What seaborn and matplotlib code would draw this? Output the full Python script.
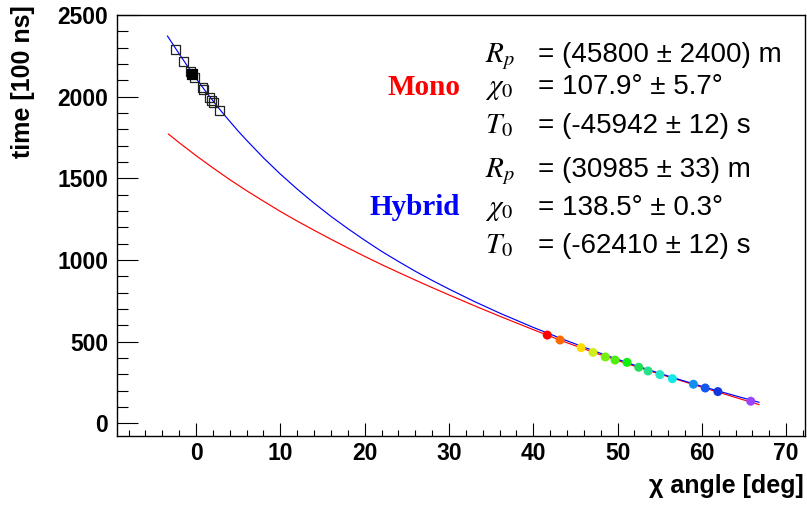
import matplotlib
matplotlib.use("Agg")
import matplotlib.pyplot as plt
from matplotlib.ticker import MultipleLocator
import seaborn as sns
import pandas as pd

# ---- data ----
mono_x = [-3.3, -2, 0, 2, 4, 6, 8, 10, 12, 14, 16, 18, 20, 22, 24, 26, 28, 30, 33, 36, 40, 44, 48, 52, 56, 60, 64, 66.8]
mono_y = [1772, 1718, 1639, 1564, 1492, 1424, 1360, 1297, 1238, 1182, 1127, 1074, 1022, 972, 924, 877, 831, 786,
          720, 656, 573, 493, 419, 350, 285, 221, 158, 114]

hyb_x = [-3.4, -2, -1, 0, 1, 2, 3, 4, 5, 6, 8, 10, 12, 14, 16, 18, 20, 22, 24, 26, 28, 30, 33, 36, 40, 44, 48,
         52, 56, 60, 64, 66.8]
hyb_y = [2372, 2262, 2186, 2112, 2042, 1975, 1910, 1849, 1789, 1733, 1625, 1526, 1434, 1348, 1267, 1192, 1121,
         1053, 991, 931, 875, 822, 746, 675, 587, 505, 428, 356, 289, 226, 168, 128]

pt_x = [41.66, 43.17, 45.67, 47.08, 48.55, 49.70, 51.12, 52.51, 53.62, 55.02, 56.50, 59.00, 60.40, 61.90, 65.80]
pt_y = [540, 510, 463, 434, 406, 387, 373, 343, 320, 298, 273, 239, 216, 194, 135]
pt_colors = ['#ff0000', '#ff6a00', '#ffdd00', '#d0ee1e', '#77ee11', '#4fee0c', '#11ee11', '#22dd55',
             '#28e08c', '#22e8c4', '#11e8e8', '#1190ee', '#1158ee', '#1138e0', '#9944ff']

sq_x = [-2.48, -1.49, -0.65, -0.18, 0.74, 0.89, 1.61, 1.81, 2.08, 2.80]
sq_y = [2290, 2213, 2152, 2117, 2057, 2044, 1993, 1979, 1966, 1913]
sq_fill_x = [-0.49]
sq_fill_y = [2136]

x_ticks = [0, 10, 20, 30, 40, 50, 60, 70]
y_ticks = [0, 500, 1000, 1500, 2000, 2500]

mono_lines = ["= (45800 ± 2400) m", "= 107.9° ± 5.7°", "= (-45942 ± 12) s"]
hyb_lines = ["= (30985 ± 33) m", "= 138.5° ± 0.3°", "= (-62410 ± 12) s"]
symbols = [r"$R_p$", r"$\chi_0$", r"$T_0$"]

# ---- style ----
sns.set_theme(style="white")
plt.rcParams['font.family'] = ['Liberation Sans', 'DejaVu Sans']
plt.rcParams['mathtext.fontset'] = 'stix'
for k in ['text.color', 'axes.labelcolor', 'xtick.color', 'ytick.color', 'axes.edgecolor']:
    plt.rcParams[k] = 'black'

W, H = 807, 507
fig = plt.figure(figsize=(W / 100, H / 100), dpi=100)
L, R, T, B = 117.3, 804.7, 15, 436
ax = fig.add_axes([L / W, 1 - B / H, (R - L) / W, (B - T) / H])

mono_df = pd.DataFrame({"x": mono_x, "y": mono_y})
hyb_df = pd.DataFrame({"x": hyb_x, "y": hyb_y})
sns.lineplot(data=mono_df, x="x", y="y", color="#ff0000", lw=0.85, sort=False, estimator=None, ax=ax, zorder=2)
sns.lineplot(data=hyb_df, x="x", y="y", color="#0000ff", lw=0.85, sort=False, estimator=None, ax=ax, zorder=3)

pt_df = pd.DataFrame({"x": pt_x, "y": pt_y, "k": [str(i) for i in range(len(pt_x))]})
sns.scatterplot(data=pt_df, x="x", y="y", hue="k", palette=pt_colors, s=42, linewidth=0,
                legend=False, ax=ax, zorder=5)

sq_df = pd.DataFrame({"x": sq_x, "y": sq_y})
sns.scatterplot(data=sq_df, x="x", y="y", marker="s", s=42, facecolor="none", edgecolor="#222222",
                linewidth=0.9, ax=ax, zorder=5)
sqf_df = pd.DataFrame({"x": sq_fill_x, "y": sq_fill_y})
sns.scatterplot(data=sqf_df, x="x", y="y", marker="s", s=42, color="black", edgecolor="black",
                linewidth=0.9, ax=ax, zorder=6)

ax.set_xlim(-9.34, 72.2)
ax.set_ylim(-78, 2500)
ax.set_xticks(x_ticks)
ax.set_yticks(y_ticks)
ax.xaxis.set_minor_locator(MultipleLocator(2))
ax.yaxis.set_minor_locator(MultipleLocator(100))
ax.tick_params(axis='both', which='both', direction='in', top=False, right=False,
               left=True, bottom=True, color='black', width=0.8, labelcolor='black')
ax.tick_params(axis='x', which='major', length=9.1, pad=4.5, labelsize=16.5)
ax.tick_params(axis='x', which='minor', length=4.3)
ax.tick_params(axis='y', which='major', length=15.0, pad=6.5, labelsize=16.5)
ax.tick_params(axis='y', which='minor', length=7.6)
for lab in ax.get_xticklabels() + ax.get_yticklabels():
    lab.set_fontweight('bold')
for sp in ax.spines.values():
    sp.set_visible(True)
    sp.set_color('black')
    sp.set_linewidth(1.0)
ax.set_xlabel("")
ax.set_ylabel("")
ax.grid(False)

def fx(px):
    return px / W

def fy(py):
    return 1 - py / H

# axis titles
fig.text(fx(23), fy(5), "time [100 ns]", rotation=90, ha="center", va="top",
         fontsize=18, fontweight="bold", color="black")
fig.text(fx(804), fy(493), "χ angle [deg]", ha="right", va="baseline",
         fontsize=18, fontweight="bold", color="black")

# fit results
baselines = [62, 94, 133, 177, 215, 253]
for i in range(3):
    fig.text(fx(485), fy(baselines[i]), symbols[i], ha="left", va="baseline", fontsize=21, color="black")
    fig.text(fx(538), fy(baselines[i]), mono_lines[i], ha="left", va="baseline", fontsize=20, color="black")
    fig.text(fx(485), fy(baselines[i + 3]), symbols[i], ha="left", va="baseline", fontsize=21, color="black")
    fig.text(fx(538), fy(baselines[i + 3]), hyb_lines[i], ha="left", va="baseline", fontsize=20, color="black")

fig.text(fx(460), fy(95), "Mono", ha="right", va="baseline", fontsize=21, fontweight="bold",
         color="#ff0000", family=["Liberation Serif", "DejaVu Serif"])
fig.text(fx(460), fy(215), "Hybrid", ha="right", va="baseline", fontsize=21, fontweight="bold",
         color="#0000ff", family=["Liberation Serif", "DejaVu Serif"])

fig.savefig("out.png", dpi=100, facecolor="white")
